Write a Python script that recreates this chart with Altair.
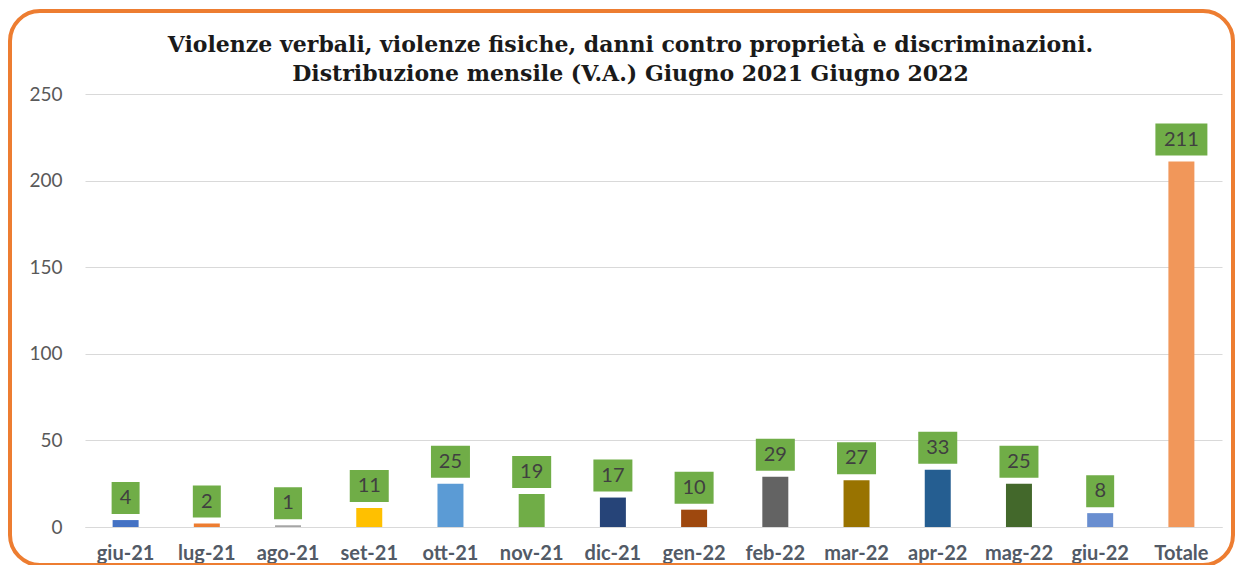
import altair as alt
import pandas as pd

months = ["giu-21", "lug-21", "ago-21", "set-21", "ott-21", "nov-21", "dic-21",
          "gen-22", "feb-22", "mar-22", "apr-22", "mag-22", "giu-22", "Totale"]
values = [4, 2, 1, 11, 25, 19, 17, 10, 29, 27, 33, 25, 8, 211]

bar_colors = ["#4472C4", "#ED7D31", "#A5A5A5", "#FFC000", "#5B9BD5", "#70AD47",
              "#264478", "#9E480E", "#636363", "#997300", "#255E91", "#43682B",
              "#698ED0", "#F1975A"]

W, H = 1137, 433

df = pd.DataFrame({"mese": months, "valore": values})
df["cifre"] = df["valore"].astype(str).str.len().astype(str)

x = alt.X("mese:N", sort=months, title=None,
          scale=alt.Scale(paddingInner=0.68, paddingOuter=0.34),
          axis=alt.Axis(labelAngle=0, labelFont="Lato", labelFontSize=20,
                        labelFontWeight="bold", labelColor="#525a66",
                        labelPadding=16, ticks=False, domainColor="#d9d9d9",
                        domainWidth=1, grid=False))
y = alt.Y("valore:Q", title=None,
          scale=alt.Scale(domain=[0, 250], nice=False),
          axis=alt.Axis(values=[0, 50, 100, 150, 200, 250], labelFont="Lato",
                        labelFontSize=19, labelColor="#595959", labelPadding=23,
                        ticks=False, domain=False, gridColor="#d9d9d9",
                        gridWidth=1))

base = alt.Chart(df)

bars = base.mark_bar().encode(
    x=x, y=y,
    color=alt.Color("mese:N", scale=alt.Scale(domain=months, range=bar_colors),
                    legend=None),
)

box_paths = [
    "M-0.538,-0.615H0.538V0.615H-0.538Z",
    "M-0.75,-0.615H0.75V0.615H-0.75Z",
    "M-1,-0.615H1V0.615H-1Z",
]

boxes = base.mark_point(filled=True, fill="#70AD47", opacity=1, strokeWidth=0,
                        size=2704, yOffset=-22).encode(
    x=alt.X("mese:N", sort=months),
    y=alt.Y("valore:Q"),
    shape=alt.Shape("cifre:N", scale=alt.Scale(domain=["1", "2", "3"], range=box_paths),
                    legend=None),
)

labels = base.mark_text(font="Lato", fontSize=20, color="#404040",
                        baseline="middle", dy=-22).encode(
    x=alt.X("mese:N", sort=months),
    y=alt.Y("valore:Q"),
    text="valore:Q",
)

frame = alt.Chart(alt.Data(values=[{}])).mark_rect(
    fill="transparent", stroke="#ED7D31", strokeWidth=4, cornerRadius=30,
    clip=False).encode(
    x=alt.value(-75), x2=alt.value(W + 11),
    y=alt.value(-83), y2=alt.value(H + 38),
)

chart = alt.layer(bars, boxes, labels, frame).properties(
    width=W, height=H,
    autosize=alt.AutoSizeParams(type="none"),
    padding={"left": 77, "top": 86, "right": 14, "bottom": 38},
    background="white",
    title=alt.TitleParams(
        ["Violenze verbali, violenze fisiche, danni contro proprietà e discriminazioni.",
         "Distribuzione mensile (V.A.) Giugno 2021 Giugno 2022"],
        font="DejaVu Serif", fontSize=22, fontWeight="bold", color="#1a1a1a",
        anchor="middle", dx=-23, offset=-77, lineHeight=29),
).configure_view(stroke=None)

chart.save("out.html", embed_options={"renderer": "svg", "actions": False})
